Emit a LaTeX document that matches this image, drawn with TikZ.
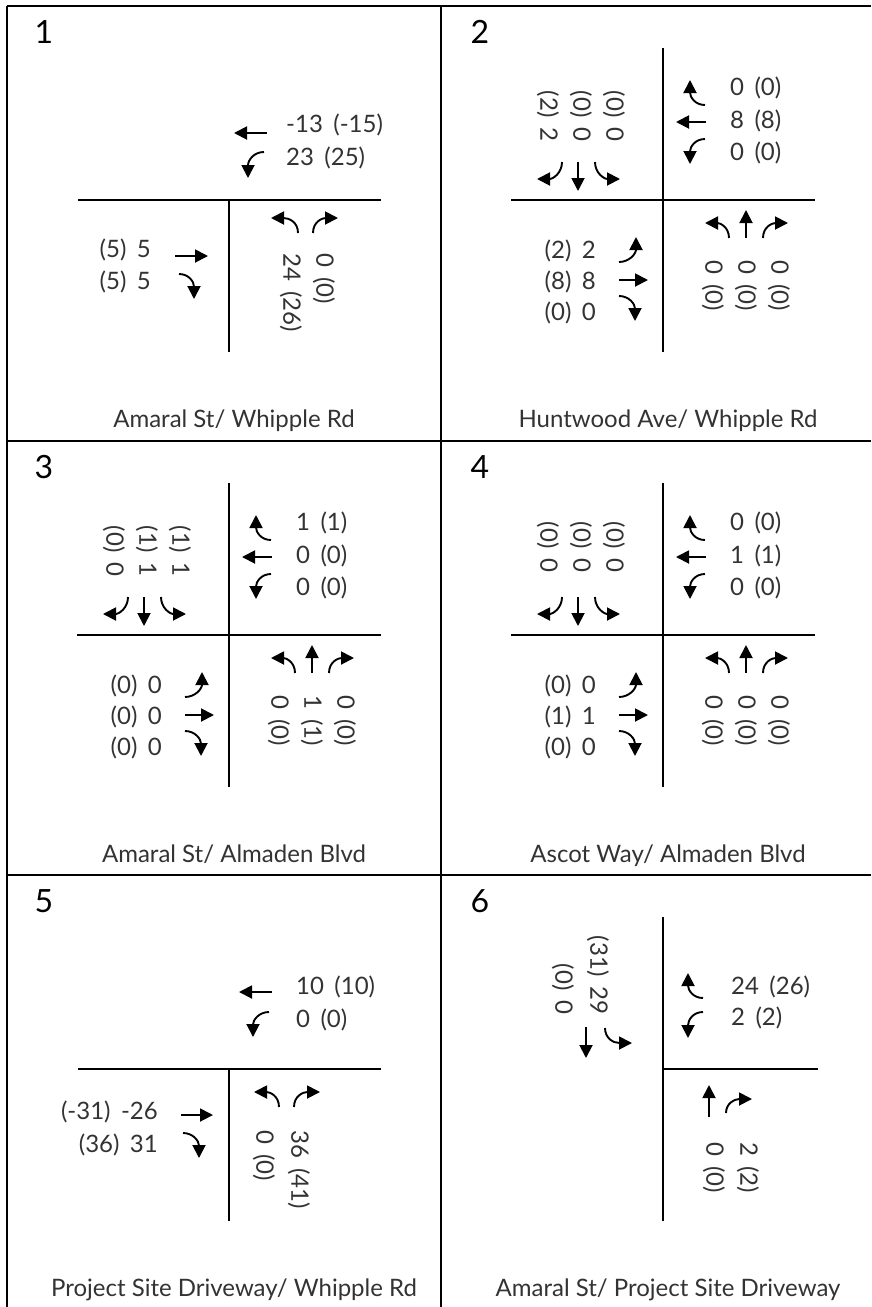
\documentclass[tikz,border=0pt]{standalone}
\usepackage{fontspec}
\setmainfont{Lato}
\newfontfamily\volfont{Lato}[WordSpace=1.7]
\usetikzlibrary{arrows.meta}

\begin{document}
\begin{tikzpicture}[x=1pt,y=-1pt,
  border/.style={line width=1.8pt},
  road/.style={line width=2.8pt},
  mv/.style={line width=1.9pt, -{Triangle[length=13pt,width=13pt]}},
  vol/.style={inner sep=0pt, text=black!80, font=\volfont\fontsize{24}{28}\selectfont},
  wb/.style={vol, anchor=west},
  eb/.style={vol, anchor=east},
  nb/.style={vol, rotate=-90, anchor=west},
  sb/.style={vol, rotate=-90, anchor=east},
  idx/.style={inner sep=0pt, font=\fontsize{32}{36}\selectfont},
  intname/.style={inner sep=0pt, anchor=base, text=black!80, font=\fontsize{24}{28}\selectfont}]
  \useasboundingbox (0,0) rectangle (871,1307);

  % frame
  \draw[border] (7,6) -- (871,6);
  \draw[border] (7,441) -- (871,441);
  \draw[border] (7,875) -- (871,875);
  \draw[border] (7,6) -- (7,1307);
  \draw[border] (441,6) -- (441,1307);

  % 1
  \begin{scope}[shift={(229,200)}]
    \draw[road] (-151,0) -- (152,0);
    \draw[road] (0,0) -- (0,152);
    \node[idx] (n1) at (-185,-168) {1};
    \draw[mv] (38,-67) -- (5,-67);
    \draw[mv] (35,-48) .. controls (25,-48) and (19,-40) .. (19,-22);
    \node[wb] (wb1a) at (57,-75) {-13 (-15)};
    \node[wb] (wb1b) at (57,-42) {23 (25)};
    \node[eb] (eb1a) at (-78,50) {(5) 5};
    \node[eb] (eb1b) at (-78,82) {(5) 5};
    \draw[mv] (-54,56) -- (-21,56);
    \draw[mv] (-50,74) .. controls (-40,74) and (-35,82) .. (-35,99);
    \draw[mv] (69,33) .. controls (69,22) and (60,18) .. (42,18);
    \draw[mv] (84,33) .. controls (84,22) and (93,18) .. (109,18);
    \node[nb] (nb1a) at (62,53) {24 (26)};
    \node[nb] (nb1b) at (95,53) {0 (0)};
    \node[intname] (c1) at (5,227) {Amaral St/ Whipple Rd};
  \end{scope}

  % 2, 3, 4 - four-leg intersections
  \foreach \cx/\cy in {663/200, 229/635, 663/635}{
    \begin{scope}[shift={(\cx,\cy)}]
      \draw[road] (-152,0) -- (152,0);
      \draw[road] (0,-152) -- (0,152);
      \draw[mv] (42,-95) .. controls (32,-95) and (27,-103) .. (27,-120);
      \draw[mv] (43,-78) -- (13,-78);
      \draw[mv] (42,-61) .. controls (32,-61) and (27,-53) .. (27,-36);
      \draw[mv] (-101,-38) .. controls (-101,-27) and (-110,-21) .. (-126,-21);
      \draw[mv] (-85,-38) -- (-85,-9);
      \draw[mv] (-68,-38) .. controls (-68,-27) and (-59,-21) .. (-43,-21);
      \draw[mv] (-44,62) .. controls (-34,62) and (-27,54) .. (-27,37);
      \draw[mv] (-44,80) -- (-15,80);
      \draw[mv] (-44,96) .. controls (-34,96) and (-28,104) .. (-28,121);
      \draw[mv] (66,38) .. controls (66,27) and (57,23) .. (42,23);
      \draw[mv] (83,38) -- (83,10);
      \draw[mv] (100,38) .. controls (100,27) and (109,23) .. (125,23);
    \end{scope}
  }

  % 2
  \begin{scope}[shift={(663,200)}]
    \node[idx] (n2) at (-183,-168) {2};
    \node[wb] (wb2a) at (67,-112) {0 (0)};
    \node[wb] (wb2b) at (67,-79) {8 (8)};
    \node[wb] (wb2c) at (67,-47) {0 (0)};
    \node[sb] (sb2a) at (-115,-58) {(2) 2};
    \node[sb] (sb2b) at (-82,-58) {(0) 0};
    \node[sb] (sb2c) at (-49,-58) {(0) 0};
    \node[eb] (eb2a) at (-67,51) {(2) 2};
    \node[eb] (eb2b) at (-67,82) {(8) 8};
    \node[eb] (eb2c) at (-67,113) {(0) 0};
    \node[nb] (nb2a) at (50,60) {0 (0)};
    \node[nb] (nb2b) at (83,60) {0 (0)};
    \node[nb] (nb2c) at (116,60) {0 (0)};
    \node[intname] (c2) at (5,227) {Huntwood Ave/ Whipple Rd};
  \end{scope}

  % 3
  \begin{scope}[shift={(229,635)}]
    \node[idx] (n3) at (-185,-168) {3};
    \node[wb] (wb3a) at (67,-112) {1 (1)};
    \node[wb] (wb3b) at (67,-79) {0 (0)};
    \node[wb] (wb3c) at (67,-47) {0 (0)};
    \node[sb] (sb3a) at (-115,-58) {(0) 0};
    \node[sb] (sb3b) at (-82,-58) {(1) 1};
    \node[sb] (sb3c) at (-49,-58) {(1) 1};
    \node[eb] (eb3a) at (-67,51) {(0) 0};
    \node[eb] (eb3b) at (-67,82) {(0) 0};
    \node[eb] (eb3c) at (-67,113) {(0) 0};
    \node[nb] (nb3a) at (50,60) {0 (0)};
    \node[nb] (nb3b) at (83,60) {1 (1)};
    \node[nb] (nb3c) at (116,60) {0 (0)};
    \node[intname] (c3) at (5,227) {Amaral St/ Almaden Blvd};
  \end{scope}

  % 4
  \begin{scope}[shift={(663,635)}]
    \node[idx] (n4) at (-183,-168) {4};
    \node[wb] (wb4a) at (67,-112) {0 (0)};
    \node[wb] (wb4b) at (67,-79) {1 (1)};
    \node[wb] (wb4c) at (67,-47) {0 (0)};
    \node[sb] (sb4a) at (-115,-62) {(0) 0};
    \node[sb] (sb4b) at (-82,-62) {(0) 0};
    \node[sb] (sb4c) at (-49,-62) {(0) 0};
    \node[eb] (eb4a) at (-67,51) {(0) 0};
    \node[eb] (eb4b) at (-67,82) {(1) 1};
    \node[eb] (eb4c) at (-67,113) {(0) 0};
    \node[nb] (nb4a) at (50,60) {0 (0)};
    \node[nb] (nb4b) at (83,60) {0 (0)};
    \node[nb] (nb4c) at (116,60) {0 (0)};
    \node[intname] (c4) at (5,227) {Ascot Way/ Almaden Blvd};
  \end{scope}

  % 5
  \begin{scope}[shift={(229,1069)}]
    \draw[road] (-151,0) -- (152,0);
    \draw[road] (0,0) -- (0,152);
    \node[idx] (n5) at (-185,-168) {5};
    \draw[mv] (43,-77) -- (10,-77);
    \draw[mv] (40,-57) .. controls (30,-57) and (24,-49) .. (24,-32);
    \node[wb] (wb5a) at (67,-82) {10 (10)};
    \node[wb] (wb5b) at (67,-49) {0 (0)};
    \node[eb] (eb5a) at (-71,43) {(-31) -26};
    \node[eb] (eb5b) at (-71,76) {(36) 31};
    \draw[mv] (-48,46) -- (-16,46);
    \draw[mv] (-46,64) .. controls (-36,64) and (-30,72) .. (-30,89);
    \draw[mv] (50,38) .. controls (50,27) and (41,23) .. (25,23);
    \draw[mv] (65,38) .. controls (65,27) and (74,23) .. (91,23);
    \node[nb] (nb5a) at (35,61) {0 (0)};
    \node[nb] (nb5b) at (70,61) {36 (41)};
    \node[intname] (c5) at (5,227) {Project Site Driveway/ Whipple Rd};
  \end{scope}

  % 6
  \begin{scope}[shift={(663,1069)}]
    \draw[road] (0,-152) -- (0,152);
    \draw[road] (0,0) -- (155,0);
    \node[idx] (n6) at (-183,-168) {6};
    \draw[mv] (40,-71) .. controls (30,-71) and (25,-79) .. (25,-96);
    \draw[mv] (40,-57) .. controls (30,-57) and (25,-49) .. (25,-31);
    \node[wb] (wb6a) at (68,-82) {24 (26)};
    \node[wb] (wb6b) at (68,-51) {2 (2)};
    \draw[mv] (-77,-42) -- (-77,-11);
    \draw[mv] (-58,-41) .. controls (-58,-31) and (-50,-26) .. (-31,-26);
    \node[sb] (sb6a) at (-100,-54) {(0) 0};
    \node[sb] (sb6b) at (-65,-54) {(31) 29};
    \draw[mv] (46,48) -- (46,16);
    \draw[mv] (63,44) .. controls (63,34) and (72,30) .. (89,30);
    \node[nb] (nb6a) at (51,73) {0 (0)};
    \node[nb] (nb6b) at (85,73) {2 (2)};
    \node[intname] (c6) at (5,227) {Amaral St/ Project Site Driveway};
  \end{scope}
\end{tikzpicture}
\end{document}
